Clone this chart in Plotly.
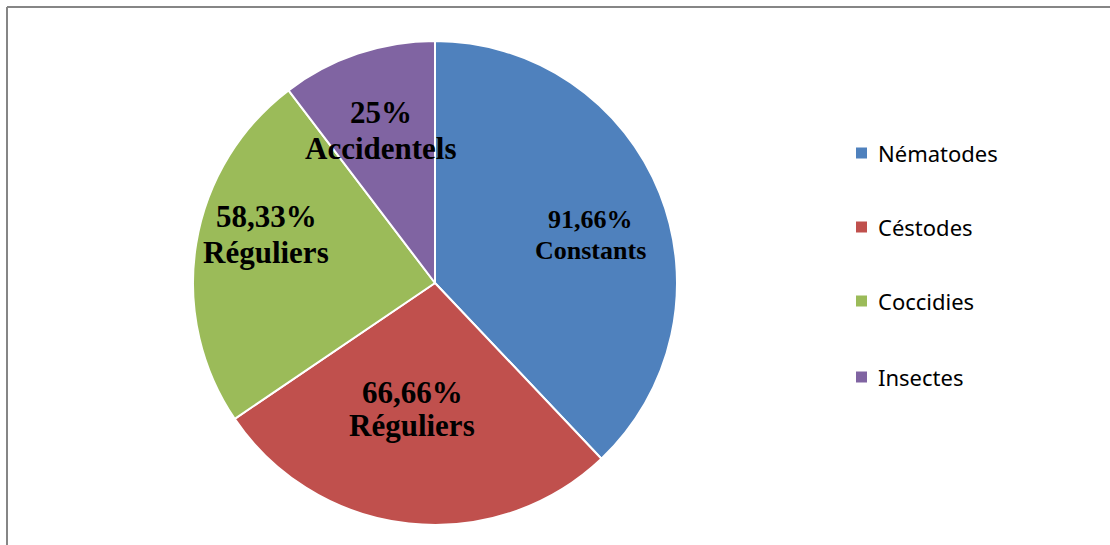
import plotly.graph_objects as go

# Parasite groups and their occurrence frequency (%)
categories = ["Nématodes", "Céstodes", "Coccidies", "Insectes"]
frequencies = [91.66, 66.66, 58.33, 25.0]
statuses = ["Constants", "Réguliers", "Réguliers", "Accidentels"]
value_labels = ["91,66%", "66,66%", "58,33%", "25%"]
colors = ["#4F81BD", "#C0504D", "#9BBB59", "#8064A2"]

W, H = 1110, 545
cx, cy, r = 435, 283, 242


def px(x):
    return x / W


def py(y):
    return 1 - y / H


fig = go.Figure()

fig.add_trace(go.Pie(
    labels=categories,
    values=frequencies,
    sort=False,
    direction="clockwise",
    rotation=0,
    marker=dict(colors=colors, line=dict(color="white", width=2)),
    textinfo="none",
    hoverinfo="label+value",
    showlegend=False,
    domain=dict(x=[px(cx - r), px(cx + r)], y=[py(cy + r), py(cy - r)]),
))

# Slice labels (percentage + status), placed inside each slice
label_pos = [  # (x centre, y of first line, y of second line, font size)
    (590, 219, 250, 26),
    (412, 392, 425, 31),
    (266, 217, 252, 31),
    (381, 112, 148, 31),
]
annotations = []
for (x, y1, y2, fs), val, st in zip(label_pos, value_labels, statuses):
    for y, txt in ((y1, val), (y2, st)):
        annotations.append(dict(
            x=px(x), y=py(y), xref="paper", yref="paper",
            text=f"<b>{txt}</b>", showarrow=False,
            xanchor="center", yanchor="middle",
            font=dict(family="Liberation Serif", size=fs, color="black"),
        ))

# Legend drawn by hand to reproduce its wide row spacing
shapes = []
legend_rows = [153, 227, 301, 377]
for y, name, col in zip(legend_rows, categories, colors):
    shapes.append(dict(
        type="rect", xref="paper", yref="paper",
        x0=px(856), x1=px(867), y0=py(y + 5.5), y1=py(y - 5.5),
        fillcolor=col, line=dict(width=0),
    ))
    annotations.append(dict(
        x=px(876), y=py(y), xref="paper", yref="paper",
        text=name, showarrow=False, xanchor="left", yanchor="middle",
        font=dict(family="Noto Sans", size=22, color="black"),
    ))

# Chart frame (top and left edges)
shapes.append(dict(type="line", xref="paper", yref="paper",
                   x0=px(7), x1=1, y0=py(7), y1=py(7),
                   line=dict(color="#868686", width=2)))
shapes.append(dict(type="line", xref="paper", yref="paper",
                   x0=px(7), x1=px(7), y0=py(7), y1=0,
                   line=dict(color="#868686", width=2)))

fig.update_layout(
    width=W, height=H,
    margin=dict(l=0, r=0, t=0, b=0),
    paper_bgcolor="white", plot_bgcolor="white",
    annotations=annotations,
    shapes=shapes,
)

fig.write_html("out.html")
